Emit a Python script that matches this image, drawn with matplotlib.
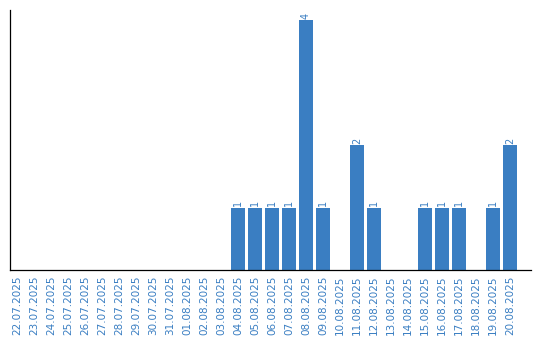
import matplotlib
matplotlib.use('Agg')
import matplotlib.pyplot as plt

dates = ['22.07.2025', '23.07.2025', '24.07.2025', '25.07.2025', '26.07.2025',
         '27.07.2025', '28.07.2025', '29.07.2025', '30.07.2025', '31.07.2025',
         '01.08.2025', '02.08.2025', '03.08.2025', '04.08.2025', '05.08.2025',
         '06.08.2025', '07.08.2025', '08.08.2025', '09.08.2025', '10.08.2025',
         '11.08.2025', '12.08.2025', '13.08.2025', '14.08.2025', '15.08.2025',
         '16.08.2025', '17.08.2025', '18.08.2025', '19.08.2025', '20.08.2025']
counts = [0, 0, 0, 0, 0, 0, 0, 0, 0, 0,
          0, 0, 0, 1, 1, 1, 1, 4, 1, 0,
          2, 1, 0, 0, 1, 1, 1, 0, 1, 2]

BLUE = '#3a7ec2'
TEXT = '#3a7ec2'

fig = plt.figure(figsize=(5.4, 3.4), dpi=100)
ax = fig.add_axes([10 / 540, 70 / 340, 521 / 540, 260 / 340])

x = list(range(len(dates)))
ax.bar(x, counts, width=0.82, color=BLUE)

for xi, c in zip(x, counts):
	if c > 0:
		ax.text(xi, c + 0.02, str(c), rotation=90, ha='center', va='bottom',
				fontsize=7, color=TEXT)

ax.set_xlim(-0.41, 30.24)
ax.set_ylim(0, 4.16)
ax.set_xticks(x)
ax.set_xticklabels(dates, rotation=90, fontsize=7.5, color=TEXT)
ax.tick_params(axis='x', length=0, pad=4)
ax.set_yticks([])
ax.spines['top'].set_visible(False)
ax.spines['right'].set_visible(False)
ax.spines['left'].set_linewidth(0.9)
ax.spines['bottom'].set_linewidth(0.9)

fig.savefig('out.png', dpi=100)
